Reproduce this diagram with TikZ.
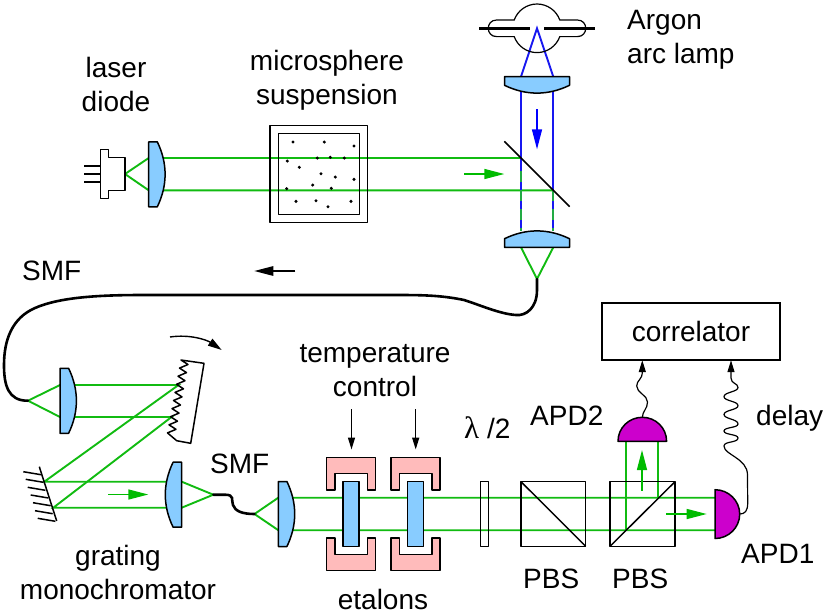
\documentclass[tikz,border=0pt]{standalone}
\usepackage{fontspec}
\setmainfont{Liberation Sans}
\newfontfamily\greekfont{Liberation Serif}
\usepackage{amsmath}
\usetikzlibrary{arrows.meta}

\definecolor{beamgreen}{HTML}{11BB11}
\definecolor{arrowgreen}{HTML}{00BB00}
\definecolor{mixgreen}{HTML}{22AA44}
\definecolor{beamblue}{HTML}{1818F0}
\definecolor{lensblue}{HTML}{88CCFF}
\definecolor{ovenpink}{HTML}{FFBBBB}
\definecolor{apdpurple}{HTML}{CC00CC}

\tikzset{
  outline/.style={draw=black, line width=1.5pt, line join=round},
  beam/.style={draw=beamgreen, line width=1.9pt},
  bluebeam/.style={draw=beamblue, line width=1.9pt},
  mixbeam/.style={draw=mixgreen, line width=1.9pt, dash pattern=on 11pt off 8pt},
  fibre/.style={draw=black, line width=2.6pt, line cap=round},
  wire/.style={draw=black, line width=1.2pt},
  greenflow/.style={draw=arrowgreen, fill=arrowgreen, line width=1.4pt, -{Triangle[length=20pt,width=10pt]}},
  blackflow/.style={draw=black, line width=1.4pt, -{Triangle[length=12pt,width=7pt]}},
  label/.style={font=\fontsize{28}{34}\selectfont, align=center, inner sep=0pt},
  lens/.pic={
    \path[outline, fill=lensblue] (0,-32.5) -- (8.6,-32.5) .. controls (19,-11) and (19,11) .. (8.6,32.5) -- (0,32.5) -- cycle;
  },
  etalon/.pic={
    \path[outline, fill=ovenpink] (-24.5,-24) -- (-24.5,-56.7) -- (24.5,-56.7) -- (24.5,-24) -- (16.2,-24) -- (16.2,-40.7) -- (-16.2,-40.7) -- (-16.2,-24) -- cycle;
    \path[outline, fill=ovenpink] (-24.5,24) -- (-24.5,56.7) -- (24.5,56.7) -- (24.5,24) -- (16.2,24) -- (16.2,40.7) -- (-16.2,40.7) -- (-16.2,24) -- cycle;
    \path[outline, fill=lensblue] (-8,-32.5) rectangle (8,32.5);
  }
}

\begin{document}
\begin{tikzpicture}[x=1pt, y=-1pt]
  \useasboundingbox (0,0) rectangle (830,614);

  % Points
  \coordinate (lamp) at (537,28.3);
  \coordinate (diode) at (125,174);
  \coordinate (lensA1) at (148.7,158);
  \coordinate (lensA2) at (148.7,190.3);
  \coordinate (splitA) at (521,158);
  \coordinate (splitB) at (553.3,190.3);
  \coordinate (topL) at (521,76.7);
  \coordinate (topR) at (553.3,76.7);
  \coordinate (lowL) at (521,230.7);
  \coordinate (lowR) at (553.3,230.7);
  \coordinate (outL) at (521,247.3);
  \coordinate (outR) at (553.3,247.3);
  \coordinate (tipA) at (537,279);
  \coordinate (tipB) at (28,400.7);
  \coordinate (collA) at (60,385);
  \coordinate (collB) at (60,417);
  \coordinate (gratA) at (178.5,385);
  \coordinate (gratB) at (171.5,417);
  \coordinate (mirrA) at (44.3,481.7);
  \coordinate (mirrB) at (53.3,507.7);
  \coordinate (focA) at (181.7,481.7);
  \coordinate (focB) at (181.7,507.7);
  \coordinate (tipC) at (213.3,494.7);
  \coordinate (tipD) at (254.5,514);
  \coordinate (lensD1) at (278.3,497.7);
  \coordinate (lensD2) at (278.3,530.2);
  \coordinate (apdAup) at (715,497.7);
  \coordinate (apdAlow) at (715,530.2);
  \coordinate (pbsA) at (658.3,497.7);
  \coordinate (pbsB) at (625.7,530.2);
  \coordinate (apdBA) at (658.3,441.3);
  \coordinate (apdBB) at (625.7,441.3);
  \coordinate (apdBtop) at (642.3,417.3);
  \coordinate (apdAtip) at (739.7,514);

  % Beams
  \draw[beam] (diode) -- (lensA1) -- (splitA);
  \draw[beam] (diode) -- (lensA2) -- (splitB);
  \draw[bluebeam] (topL) -- (lamp) -- (topR);
  \draw[bluebeam] (topL) -- (lowL);
  \draw[bluebeam] (topR) -- (lowR);
  \draw[mixbeam] (521,171) -- (lowL);
  \draw[mixbeam] (splitB) -- (lowR);
  \draw[beam] (outL) -- (tipA) -- (outR);
  \draw[beam] (tipB) -- (collA) -- (gratA) -- (mirrA) -- (focA) -- (tipC);
  \draw[beam] (tipB) -- (collB) -- (gratB) -- (mirrB) -- (focB) -- (tipC);
  \draw[beam] (tipD) -- (lensD1) -- (apdAup);
  \draw[beam] (tipD) -- (lensD2) -- (apdAlow);
  \draw[beam] (pbsA) -- (apdBA);
  \draw[beam] (pbsB) -- (apdBB);

  % Fibres
  \draw[fibre] (tipA) -- (537,290) .. controls (537,308) and (526,316) .. (516,315)
    .. controls (500,314) and (480,305) .. (464,300) .. controls (440,295) and (420,295) .. (393,295)
    -- (143,295) .. controls (100,295) and (60,297) .. (35,308)
    .. controls (12,318) and (4,340) .. (4,365) .. controls (4,385) and (8,401) .. (tipB);
  \draw[fibre] (tipC) -- (225,494.7) .. controls (235,494.7) and (231,500) .. (233,505)
    .. controls (235,511) and (242,514) .. (tipD);

  % Laser diode
  \draw[outline, fill=white] (100.5,149.5) -- (108.5,149.5) -- (108.5,157.7) -- (125,157.7) -- (125,190.3) -- (108.5,190.3) -- (108.5,198.5) -- (100.5,198.5) -- cycle;
  \foreach \pin in {166,174,182} {
    \draw[wire] (84,\pin) -- (100.5,\pin);
  }

  % Lenses
  \pic at (148.7,174.3) {lens};
  \pic[rotate=-90] at (537,76.7) {lens};
  \pic[rotate=90] at (537,247.3) {lens};
  \pic at (60,400.8) {lens};
  \pic[rotate=180] at (181.7,494.7) {lens};
  \pic at (278.3,514) {lens};

  % Suspension
  \draw[outline] (270,125.7) rectangle (367.3,222.7);
  \draw[outline] (278.3,133.7) rectangle (359.3,214.7);
  \foreach \dotx/\doty in {293/142,324.3/142,354/146,287.3/161,317.3/158,330.3/157.3,344.3/158,299.3/167.3,321/173.7,335.3/177,354/179.3,286.7/188.7,312.7/185,331.3/188.3,296/201.3,316/200.7,328/206.7,351/201.3} {
    \fill (\dotx,\doty) circle (1.7pt);
  }

  % Lamp
  \draw[wire] (514.2,20) .. controls (517.7,10.4) and (526.8,4) .. (537,4) .. controls (547.2,4) and (556.3,10.4) .. (559.8,20)
    -- (577.4,20) .. controls (588.5,20) and (588.5,36.6) .. (577.4,36.6) -- (559.8,36.6)
    .. controls (556.3,46.2) and (547.2,52.6) .. (537,52.6) .. controls (526.8,52.6) and (517.7,46.2) .. (514.2,36.6)
    -- (496.6,36.6) .. controls (485.5,36.6) and (485.5,20) .. (496.6,20) -- cycle;
  \draw[line width=2.7pt] (479.3,28.3) -- (530,28.3);
  \draw[line width=2.7pt] (544,28.3) -- (595,28.3);

  % Splitter
  \draw[outline] (504.3,141.3) -- (569.7,206.7);

  % Grating and mirror
  \draw[outline] (181,360) foreach \tooth in {0,...,8} { -- ++(7,4.5) -- ++(-8.5,3.6) }
    -- (176.7,440.7) -- (190.7,443.3) -- (204,363.3) -- cycle;
  \draw[outline] (39.3,466.7) -- (56.7,521);
  \foreach \tickx/\ticky in {23.3/471.7,25.7/479.3,27.7/487.3,30.7/495,33/502.7,35/510.7,37.7/518.3} {
    \draw[outline] (\tickx,\ticky) -- ++(17.7,3);
  }
  \coordinate (swingA) at (170,337);
  \coordinate (swingB) at (221.7,350);
  \draw[line width=1.4pt, -{Triangle[length=14pt,width=8pt]}] (swingA) .. controls (190,334) and (207,340) .. (swingB);

  % Etalons
  \pic at (351.2,514) {etalon};
  \pic at (415.7,514) {etalon};
  \coordinate (heatA) at (351.5,409);
  \coordinate (heatAend) at (351.5,449.5);
  \coordinate (heatB) at (415.7,409);
  \coordinate (heatBend) at (415.7,449.5);
  \draw[blackflow] (heatA) -- (heatAend);
  \draw[blackflow] (heatB) -- (heatBend);

  % Plate and cubes
  \draw[outline] (480.3,481.7) rectangle (488.7,546.7);
  \draw[outline] (521,481.7) rectangle (585.7,546.3);
  \draw[outline] (521,481.7) -- (585.7,546.3);
  \draw[outline] (610,481.7) rectangle (675,546.3);
  \draw[outline] (610,546.3) -- (675,481.7);

  % Detectors
  \draw[outline, fill=apdpurple] (618,441.3) .. controls (618,427.9) and (628.9,417.3) .. (642.3,417.3) .. controls (655.7,417.3) and (666.6,427.9) .. (666.6,441.3) -- cycle;
  \draw[outline, fill=apdpurple] (715,489.7) .. controls (728.5,489.7) and (739.7,500.6) .. (739.7,514.1) .. controls (739.7,527.6) and (728.5,538.5) .. (715,538.5) -- cycle;

  % Correlator
  \node[label, draw, line width=1.5pt, minimum width=178pt, minimum height=57pt] (correlator) at (691,331.7) {correlator};
  \coordinate (inA) at (642.3,360.2);
  \coordinate (inB) at (731,360.2);
  \draw[wire, -{Triangle[length=12pt,width=7pt]}] (apdBtop) .. controls (642.5,411) and (647.5,409) .. (647.5,402)
    .. controls (647.5,395) and (636.7,393) .. (636.7,386) .. controls (636.7,380) and (642.3,380) .. (inA);
  \draw[wire, -{Triangle[length=12pt,width=7pt]}] (apdAtip) .. controls (745,514) and (747.7,511) .. (747.7,503)
    -- (747.5,475) .. controls (747.5,458) and (724,455) .. (724,446)
    .. controls (724,441) and (738,443) .. (738,438) .. controls (738,434) and (724,435) .. (724,431)
    .. controls (724,427) and (738,428) .. (738,424) .. controls (738,419) and (724,419) .. (724,414.5)
    .. controls (724,410) and (738,410) .. (738,405.7) .. controls (738,401) and (724,401) .. (724,396.7)
    .. controls (724,392) and (738,392) .. (738,387.5) .. controls (738,383) and (731,384) .. (731,378) -- (inB);

  % Flow arrows
  \coordinate (flowA) at (464,174);
  \coordinate (flowAend) at (504.3,174);
  \draw[greenflow] (flowA) -- (flowAend);
  \coordinate (flowB) at (108.3,494.5);
  \coordinate (flowBend) at (148.3,494.5);
  \draw[greenflow] (flowB) -- (flowBend);
  \coordinate (flowC) at (666,514);
  \coordinate (flowCend) at (706.7,514);
  \draw[greenflow] (flowC) -- (flowCend);
  \coordinate (flowD) at (642,490.7);
  \coordinate (flowDend) at (642,450);
  \draw[greenflow] (flowD) -- (flowDend);
  \coordinate (flowE) at (537,109);
  \coordinate (flowEend) at (537,149.3);
  \draw[draw=blue, fill=blue, line width=1.4pt, -{Triangle[length=20pt,width=10pt]}] (flowE) -- (flowEend);
  \coordinate (flowF) at (295.4,271);
  \coordinate (flowFend) at (254.3,271);
  \draw[black, line width=1.4pt, -{Triangle[length=19pt,width=9.5pt]}] (flowF) -- (flowFend);

  % Labels
  \node[label, align=left, anchor=west] (arclamp) at (627,40) {Argon\\arc lamp};
  \node[label] (laserdiode) at (116,84) {laser\\diode};
  \node[label] (suspension) at (327,80) {microsphere\\suspension};
  \node[label, anchor=base west] (smfA) at (22,280) {SMF};
  \node[label] (heating) at (375,371) {temperature\\control};
  \node[label, anchor=base west] (halfwave) at (464,438) {{\greekfont\fontsize{31}{34}\selectfont λ} /2};
  \node[label, anchor=base west] (smfB) at (210,473) {SMF};
  \node[label, anchor=base west] (apdtwo) at (530,425) {APD2};
  \node[label, anchor=base west] (apdone) at (741,563) {APD1};
  \node[label, anchor=base west] (delay) at (756,425) {delay};
  \node[label, anchor=base west] (pbsone) at (523,588) {PBS};
  \node[label, anchor=base west] (pbstwo) at (612,588) {PBS};
  \node[label] (monochromator) at (118,572) {grating\\monochromator};
  \node[label, anchor=base] (etalons) at (383,609) {etalons};
\end{tikzpicture}
\end{document}
